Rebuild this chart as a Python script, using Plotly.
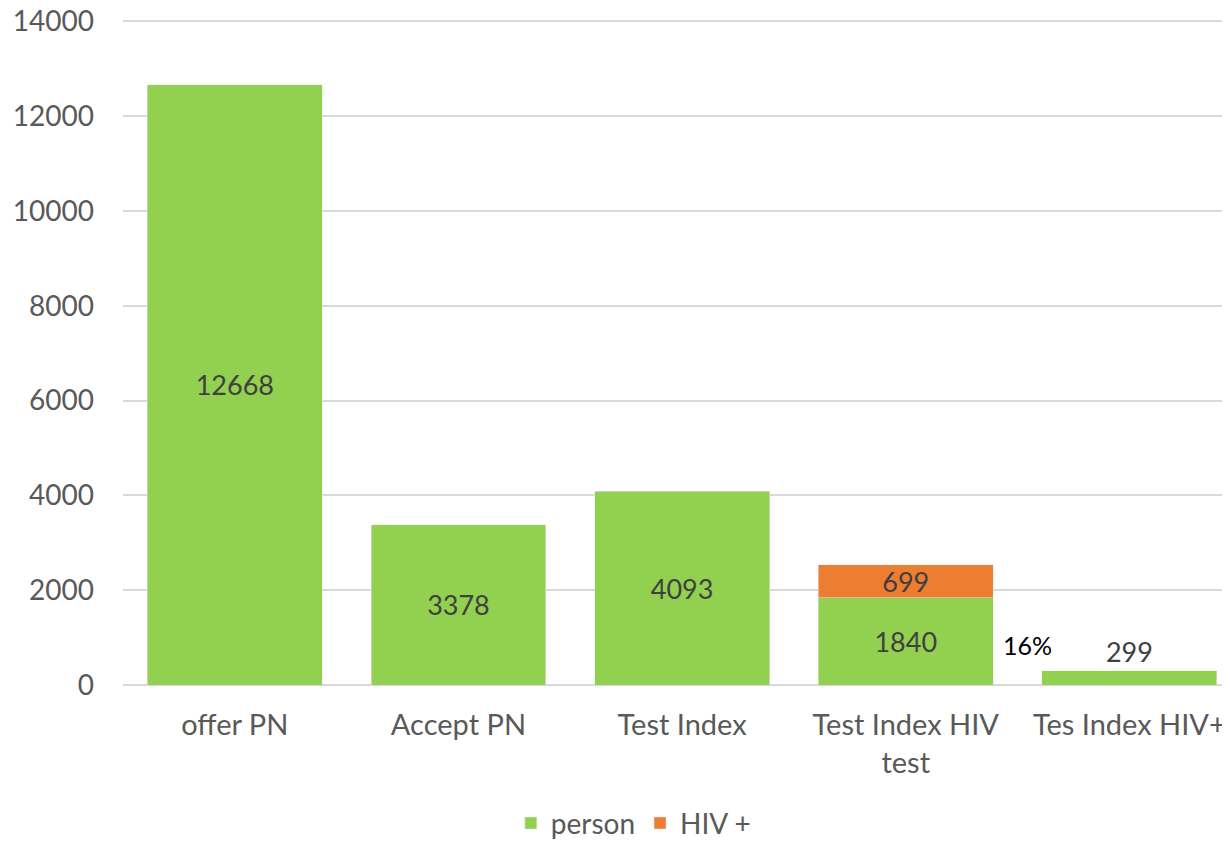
import plotly.graph_objects as go

categories = ["offer PN", "Accept PN", "Test Index", "Test Index HIV<br>test", "Tes Index HIV+"]
person = [12668, 3378, 4093, 1840, 299]
hiv_pos = [None, None, None, 699, None]
y_ticks = [0, 2000, 4000, 6000, 8000, 10000, 12000, 14000]
pct_label = "16%"
pct_y = 843

FONT = "Lato"
fig = go.Figure()
fig.add_trace(go.Bar(
    x=categories, y=person, name="person",
    marker=dict(color="#92D050"),
    text=[str(v) for v in person],
    textposition=["inside", "inside", "inside", "inside", "outside"],
    insidetextanchor="middle",
    textfont=dict(family=FONT, size=27, color="#404040"),
    cliponaxis=False,
))
fig.add_trace(go.Bar(
    x=categories, y=hiv_pos, name="HIV +",
    marker=dict(color="#ED7D31"),
    text=["" if v is None else str(v) for v in hiv_pos],
    textposition="inside",
    insidetextanchor="middle",
    textfont=dict(family=FONT, size=27, color="#404040"),
))
fig.add_annotation(
    x=0.8175, xref="paper", y=pct_y, yref="y", xanchor="center", yanchor="middle",
    text=pct_label, showarrow=False,
    font=dict(family=FONT, size=25, color="#000000"),
)
fig.update_layout(
    barmode="stack",
    bargap=0.218,
    width=1222, height=834,
    margin=dict(l=115, r=0, t=12, b=157, autoexpand=False),
    plot_bgcolor="white", paper_bgcolor="white",
    font=dict(family=FONT, size=28, color="#595959"),
    uniformtext=dict(minsize=27, mode="show"),
    legend=dict(orientation="h", x=0.461, xanchor="center", y=-0.208, yanchor="middle",
                font=dict(family=FONT, size=28, color="#595959"), traceorder="normal"),
    yaxis=dict(range=[0, 14030], tickvals=y_ticks,
               tickformat="d", showgrid=True, gridcolor="#D9D9D9", gridwidth=1.5,
               zeroline=True, zerolinecolor="#D9D9D9", zerolinewidth=1.5,
               ticks="", tickfont=dict(family=FONT, size=28, color="#595959"),
               ticklabelstandoff=28, ticklabeloverflow="allow", automargin=False),
    xaxis=dict(range=[-0.5, 4.45], showline=False, ticks="", automargin=False,
               tickfont=dict(family=FONT, size=29, color="#595959"),
               ticklabelstandoff=20, ticklabeloverflow="allow"),
)
fig.write_html("out.html")
